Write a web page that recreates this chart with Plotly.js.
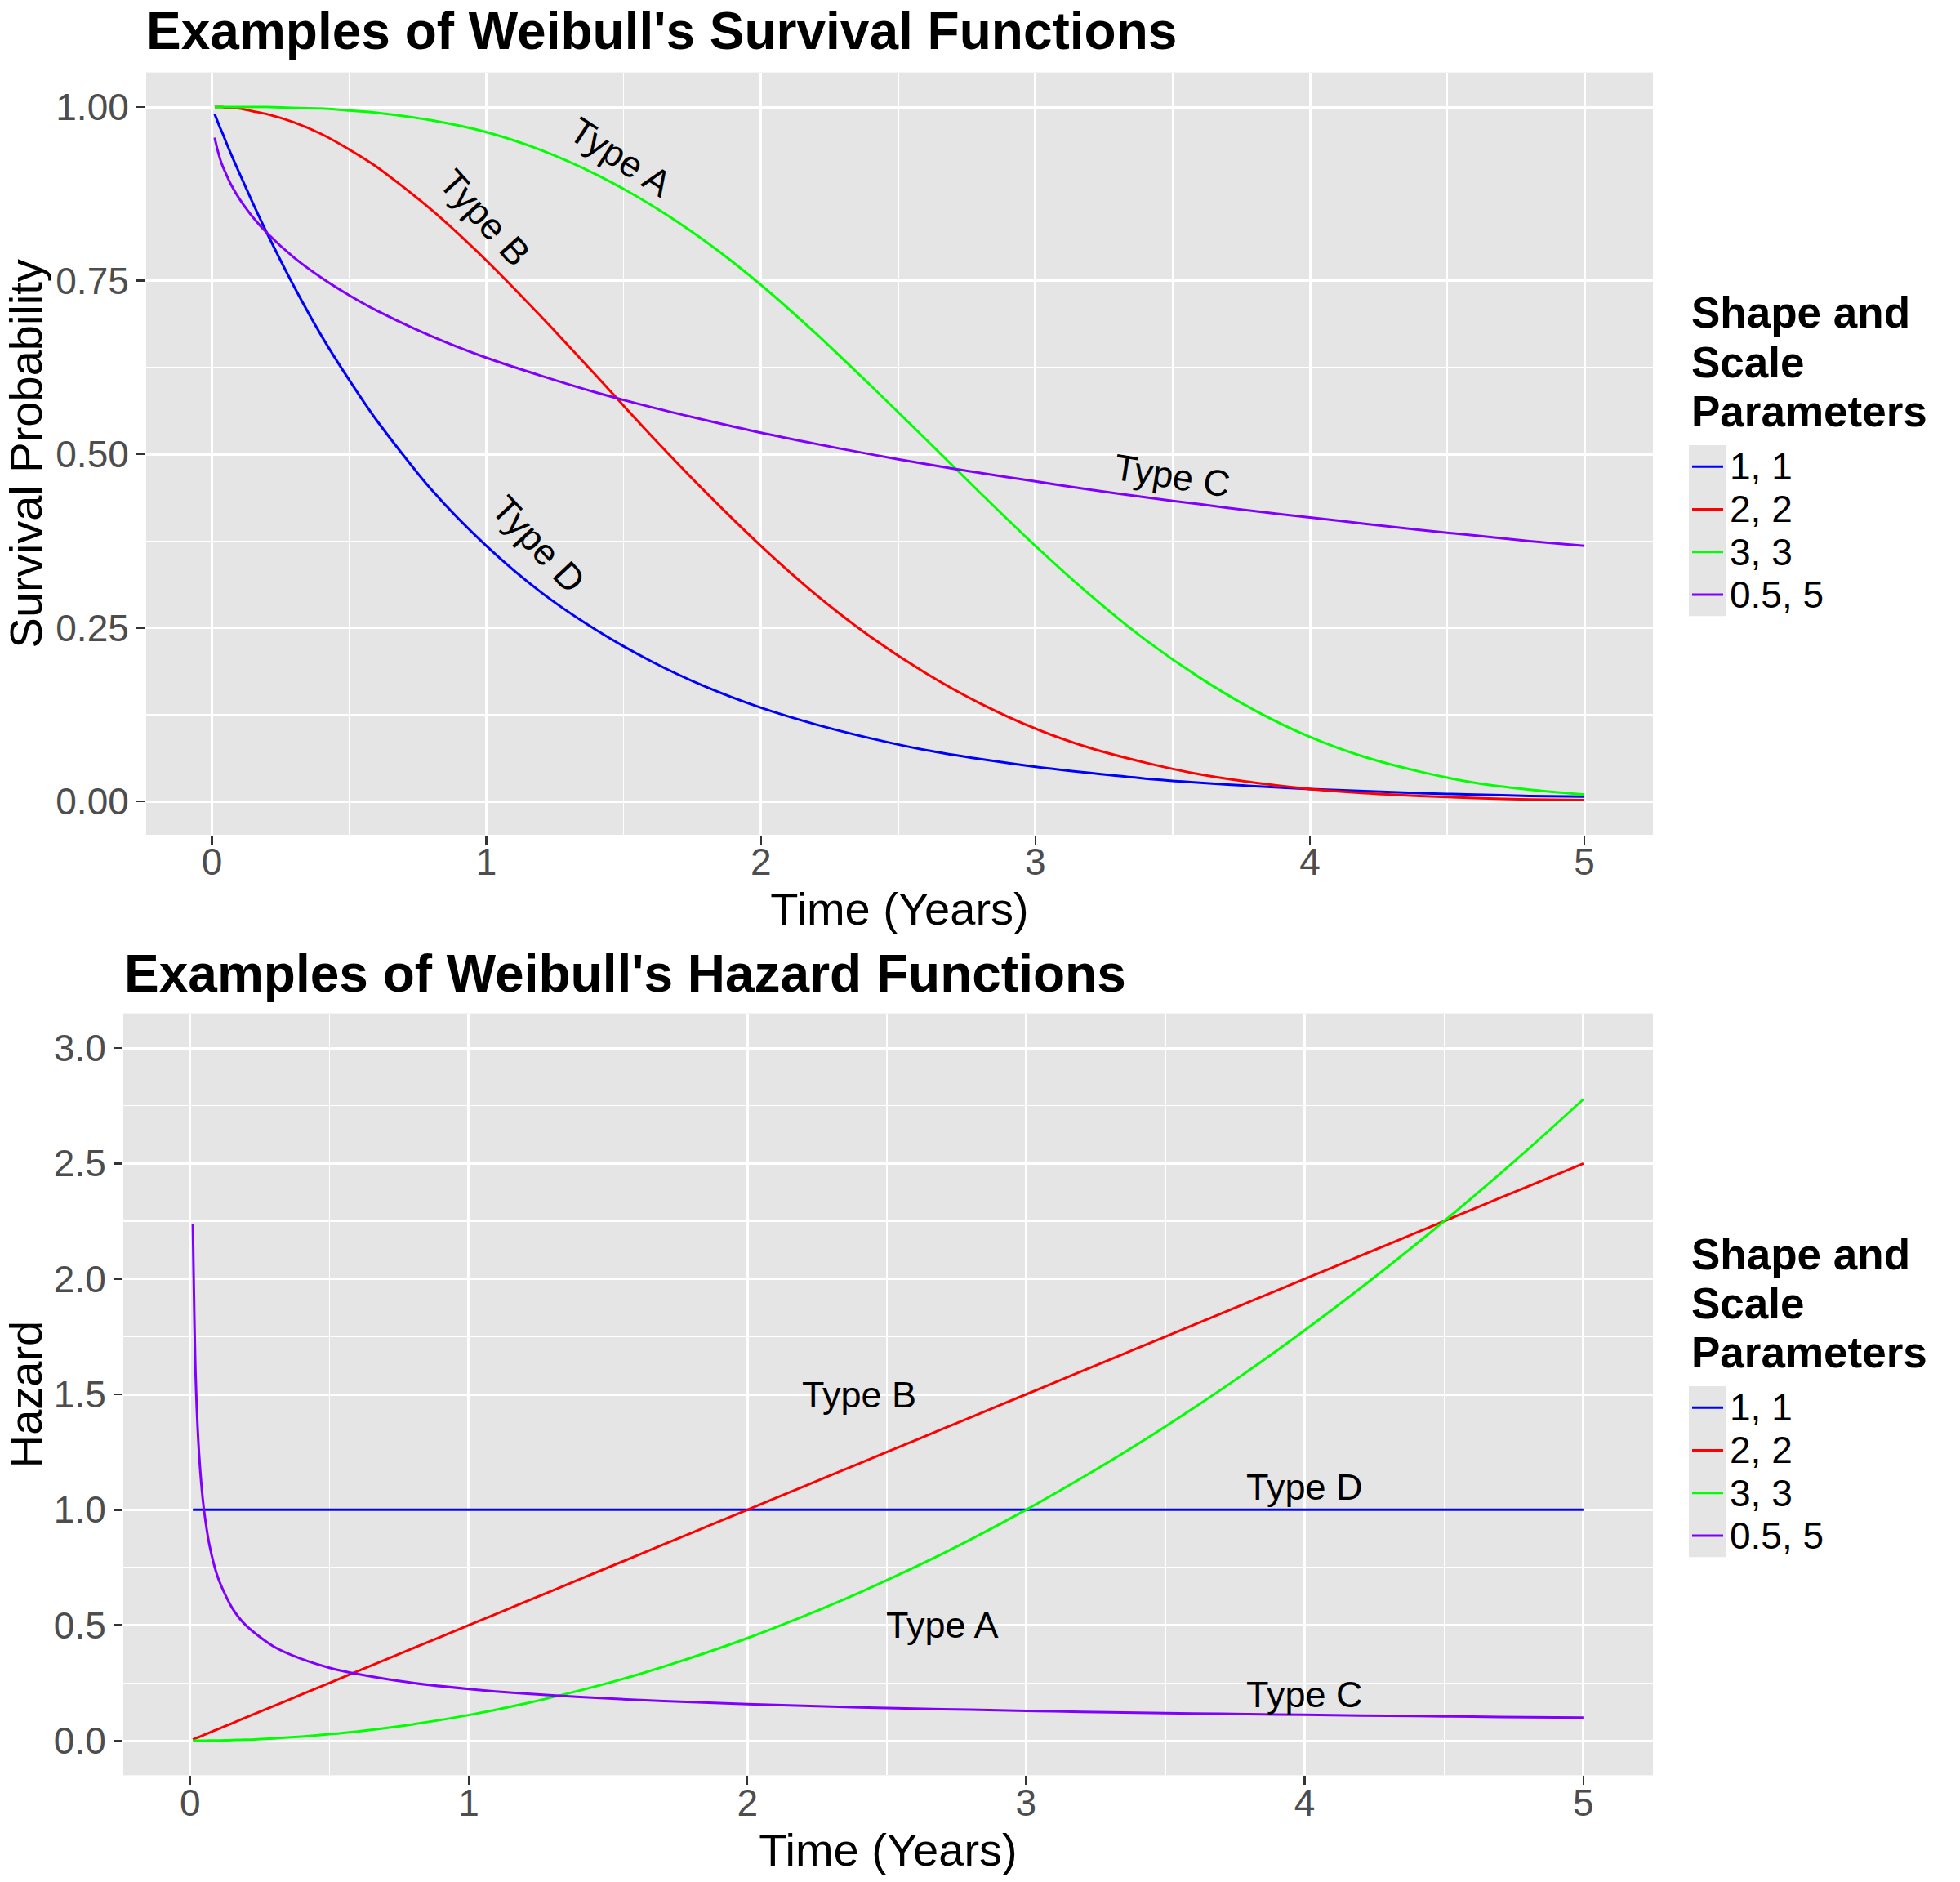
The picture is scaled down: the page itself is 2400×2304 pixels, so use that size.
<!DOCTYPE html>
<html>
<head>
<meta charset="utf-8">
<script src="https://cdn.plot.ly/plotly-3.0.1.min.js"></script>
<style>
  html, body { margin: 0; padding: 0; background: #ffffff; }
  #chart { width: 2400px; height: 2304px; }
</style>
</head>
<body>
<div id="chart"></div>
<script>
// time points (years)
const timeYears = [0.01, 0.02, 0.03, 0.04, 0.05, 0.07, 0.1, 0.15, 0.2, 0.3, 0.4, 0.5, 0.6, 0.8,
  1.0, 1.2, 1.4, 1.6, 1.8, 2.0, 2.2, 2.4, 2.6, 2.8, 3.0, 3.2, 3.4, 3.6, 3.8, 4.0, 4.2, 4.4, 4.6, 4.8, 5.0];

const paramLabels = ["1, 1", "2, 2", "3, 3", "0.5, 5"];
const lineColors = ["#0000FF", "#FF0000", "#00FF00", "#8000FF"];

// survival probability
const survival11 = [0.990, 0.980, 0.970, 0.961, 0.951, 0.932, 0.905, 0.861, 0.819, 0.741, 0.670, 0.607, 0.549, 0.449,
  0.368, 0.301, 0.247, 0.202, 0.165, 0.135, 0.111, 0.091, 0.074, 0.061, 0.050,
  0.041, 0.033, 0.027, 0.022, 0.018, 0.015, 0.012, 0.010, 0.008, 0.007];
const survival22 = [1.000, 1.000, 1.000, 1.000, 0.999, 0.999, 0.998, 0.994, 0.990, 0.978, 0.961, 0.939, 0.914, 0.852,
  0.779, 0.698, 0.613, 0.527, 0.445, 0.368, 0.298, 0.237, 0.185, 0.141, 0.105,
  0.077, 0.056, 0.039, 0.027, 0.018, 0.012, 0.008, 0.005, 0.003, 0.002];
const survival33 = [1.000, 1.000, 1.000, 1.000, 1.000, 1.000, 1.000, 1.000, 1.000, 0.999, 0.998, 0.995, 0.992, 0.981,
  0.964, 0.938, 0.903, 0.859, 0.806, 0.744, 0.674, 0.599, 0.522, 0.444, 0.368,
  0.297, 0.233, 0.178, 0.131, 0.093, 0.064, 0.043, 0.027, 0.017, 0.010];
const survival055 = [0.956, 0.939, 0.925, 0.914, 0.905, 0.888, 0.868, 0.841, 0.819, 0.783, 0.754, 0.729, 0.707, 0.670,
  0.639, 0.613, 0.589, 0.568, 0.549, 0.531, 0.515, 0.500, 0.486, 0.473, 0.461,
  0.449, 0.438, 0.428, 0.418, 0.409, 0.400, 0.391, 0.383, 0.375, 0.368];

// hazard
const hazard11 = [1, 1, 1, 1, 1, 1, 1, 1, 1, 1, 1, 1, 1, 1,
  1, 1, 1, 1, 1, 1, 1, 1, 1, 1, 1,
  1, 1, 1, 1, 1, 1, 1, 1, 1, 1];
const hazard22 = [0.005, 0.010, 0.015, 0.020, 0.025, 0.035, 0.050, 0.075, 0.100, 0.150, 0.200, 0.250, 0.300, 0.400,
  0.500, 0.600, 0.700, 0.800, 0.900, 1.000, 1.100, 1.200, 1.300, 1.400, 1.500,
  1.600, 1.700, 1.800, 1.900, 2.000, 2.100, 2.200, 2.300, 2.400, 2.500];
const hazard33 = [0.000, 0.000, 0.000, 0.000, 0.000, 0.001, 0.001, 0.003, 0.004, 0.010, 0.018, 0.028, 0.040, 0.071,
  0.111, 0.160, 0.218, 0.284, 0.360, 0.444, 0.538, 0.640, 0.751, 0.871, 1.000,
  1.138, 1.284, 1.440, 1.604, 1.778, 1.960, 2.151, 2.351, 2.560, 2.778];
const hazard055 = [2.236, 1.581, 1.291, 1.118, 1.000, 0.845, 0.707, 0.577, 0.500, 0.408, 0.354, 0.316, 0.289, 0.250,
  0.224, 0.204, 0.189, 0.177, 0.167, 0.158, 0.151, 0.144, 0.139, 0.134, 0.129,
  0.125, 0.121, 0.118, 0.115, 0.112, 0.109, 0.107, 0.104, 0.102, 0.100];

const xTicks = [0, 1, 2, 3, 4, 5];
const survivalTicks = [0, 0.25, 0.5, 0.75, 1];
const hazardTicks = [0, 0.5, 1, 1.5, 2, 2.5, 3];

const survivalSeries = [survival11, survival22, survival33, survival055];
const hazardSeries = [hazard11, hazard22, hazard33, hazard055];

const FONT = "Liberation Sans, Arial, Helvetica, sans-serif";
const W = 2400, H = 2304;
const px = v => v / W;         // pixel -> paper x
const py = v => 1 - v / H;     // pixel (from top) -> paper y

let traces = [];
survivalSeries.forEach((ys, i) => {
  traces.push({
    type: "scatter", mode: "lines", x: timeYears, y: ys,
    name: paramLabels[i], showlegend: false,
    line: {color: lineColors[i], width: 3, shape: "spline", smoothing: 0.8},
    xaxis: "x", yaxis: "y"
  });
});
hazardSeries.forEach((ys, i) => {
  traces.push({
    type: "scatter", mode: "lines", x: timeYears, y: ys,
    name: paramLabels[i], showlegend: false,
    line: {color: lineColors[i], width: 3, shape: "spline", smoothing: 0.8},
    xaxis: "x2", yaxis: "y2"
  });
});

function xAxis(domain, anchor) {
  return {
    domain: domain, anchor: anchor, range: [-0.2395, 5.2495],
    tickmode: "array", tickvals: xTicks,
    ticks: "outside", ticklen: 11, tickwidth: 2.5, tickcolor: "#333333",
    ticklabelstandoff: -18,
    tickfont: {family: FONT, size: 46, color: "#4D4D4D"},
    showgrid: true, gridcolor: "#FFFFFF", gridwidth: 3,
    minor: {tick0: 0, dtick: 0.5, showgrid: true, gridcolor: "#FFFFFF", gridwidth: 1.5},
    zeroline: false, showline: false,
    title: {text: "Time (Years)", font: {family: FONT, size: 56, color: "#000000"}, standoff: 0}
  };
}

function yAxis(domain, anchor, range, ticks, minorStep, fmt, title) {
  return {
    domain: domain, anchor: anchor, range: range,
    tickmode: "array", tickvals: ticks, tickformat: fmt,
    ticks: "outside", ticklen: 11, tickwidth: 2.5, tickcolor: "#333333",
    tickfont: {family: FONT, size: 46, color: "#4D4D4D"},
    showgrid: true, gridcolor: "#FFFFFF", gridwidth: 3,
    minor: {tick0: 0, dtick: minorStep, showgrid: true, gridcolor: "#FFFFFF", gridwidth: 1.5},
    zeroline: false, showline: false,
    title: {text: title, font: {family: FONT, size: 56, color: "#000000"}, standoff: 7}
  };
}

const labelFont = {family: FONT, size: 45, color: "#000000"};
function typeLabel(text, x, y, xref, yref, angle) {
  return {text: text, x: x, y: y, xref: xref, yref: yref, showarrow: false,
    textangle: angle, font: labelFont, xanchor: "center", yanchor: "middle"};
}

let annotations = [
  {text: "<b>Examples of Weibull's Survival Functions</b>", xref: "paper", yref: "paper",
    x: px(177), y: py(38), xanchor: "left", yanchor: "middle", showarrow: false,
    font: {family: FONT, size: 64, color: "#000000"}},
  {text: "<b>Examples of Weibull's Hazard Functions</b>", xref: "paper", yref: "paper",
    x: px(150), y: py(1192), xanchor: "left", yanchor: "middle", showarrow: false,
    font: {family: FONT, size: 64, color: "#000000"}},
  typeLabel("Type A", 1.49, 0.928, "x", "y", 33),
  typeLabel("Type B", 0.994, 0.841, "x", "y", 48),
  typeLabel("Type C", 3.5, 0.469, "x", "y", 9),
  typeLabel("Type D", 1.19, 0.370, "x", "y", 47),
  typeLabel("Type A", 2.7, 0.5, "x2", "y2", 0),
  typeLabel("Type B", 2.4, 1.5, "x2", "y2", 0),
  typeLabel("Type C", 4.0, 0.2, "x2", "y2", 0),
  typeLabel("Type D", 4.0, 1.1, "x2", "y2", 0)
];
let shapes = [];

// ggplot-style legend: bold title lines, grey key strip, short coloured keys, labels
const legendTitleLines = ["Shape and", "Scale", "Parameters"];
function addLegend(top) {
  legendTitleLines.forEach((t, k) => {
    annotations.push({text: "<b>" + t + "</b>", xref: "paper", yref: "paper",
      x: px(2069), y: py(top + 20 + k * 60), xanchor: "left", yanchor: "middle", showarrow: false,
      font: {family: FONT, size: 53, color: "#000000"}});
  });
  const keyTop = top + 182, keyStep = 52.3;
  shapes.push({type: "rect", xref: "paper", yref: "paper", layer: "above",
    x0: px(2068), x1: px(2114), y0: py(keyTop + 4 * keyStep), y1: py(keyTop),
    fillcolor: "#E5E5E5", line: {width: 0}});
  paramLabels.forEach((lab, i) => {
    const yc = keyTop + keyStep * (i + 0.5);
    shapes.push({type: "line", xref: "paper", yref: "paper", layer: "above",
      x0: px(2072), x1: px(2110), y0: py(yc), y1: py(yc),
      line: {color: lineColors[i], width: 3}});
    annotations.push({text: lab, xref: "paper", yref: "paper",
      x: px(2116), y: py(yc), xanchor: "left", yanchor: "middle", showarrow: false,
      font: {family: FONT, size: 46, color: "#000000"}});
  });
}
addLegend(363);
addLegend(363 + 1152);

const layout = {
  width: W, height: H,
  margin: {l: 0, r: 0, t: 0, b: 0},
  paper_bgcolor: "#FFFFFF", plot_bgcolor: "#E5E5E5",
  font: {family: FONT},
  showlegend: false,
  xaxis: xAxis([px(179), px(2024)], "y"),
  yaxis: yAxis([py(1022), py(88.6)], "x", [-0.048, 1.05], survivalTicks, 0.125, ".2f", "Survival Probability"),
  xaxis2: xAxis([px(151), px(2024)], "y2"),
  yaxis2: yAxis([py(2173.4), py(1240.6)], "x2", [-0.15, 3.15], hazardTicks, 0.25, ".1f", "Hazard"),
  annotations: annotations,
  shapes: shapes
};

Plotly.newPlot("chart", traces, layout, {displayModeBar: false, staticPlot: true});
</script>
</body>
</html>
